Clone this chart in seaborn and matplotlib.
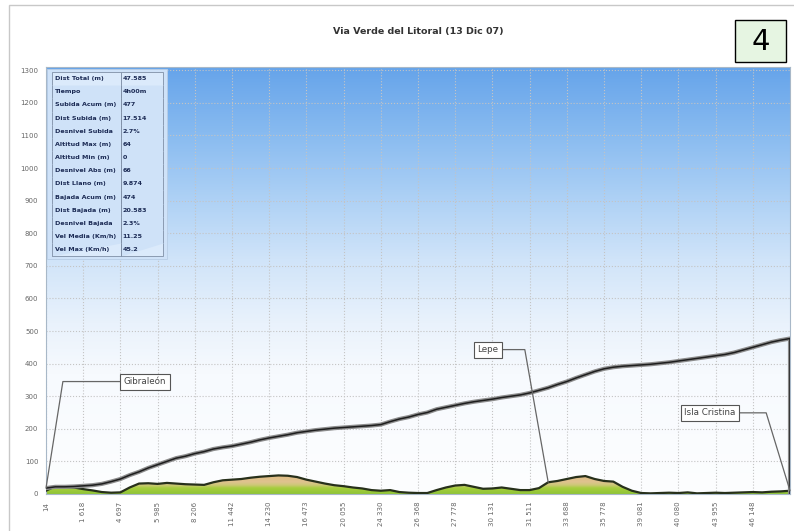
import matplotlib
matplotlib.use("Agg")
import matplotlib.pyplot as plt
import matplotlib.patches as mpatches
from matplotlib.colors import LinearSegmentedColormap
import numpy as np
import pandas as pd
import seaborn as sns

# cumulative ascent (m), one value per sample
cum_ascent = [18, 22, 22, 23, 25, 27, 31, 38, 46, 58, 68, 80, 90, 100, 110, 116,
              124, 130, 138, 143, 147, 153, 159, 166, 172, 177, 182, 188, 192, 196,
              199, 202, 204, 206, 208, 210, 213, 222, 230, 236, 244, 250, 260, 266,
              272, 278, 283, 287, 291, 296, 300, 304, 310, 318, 326, 336, 345, 356,
              366, 376, 384, 389, 392, 394, 396, 398, 401, 404, 408, 412, 416, 420,
              424, 428, 434, 442, 450, 458, 466, 472, 477]
# altitude profile (m)
altitude = [10, 24, 22, 20, 15, 11, 6, 4, 5, 20, 32, 33, 31, 34, 32, 30, 29, 28,
            36, 42, 44, 46, 50, 53, 55, 57, 56, 52, 44, 38, 32, 27, 24, 20, 17, 12,
            10, 12, 6, 4, 3, 3, 12, 20, 26, 28, 22, 16, 17, 20, 16, 12, 12, 18, 36,
            40, 46, 52, 55, 46, 40, 38, 22, 10, 3, 2, 3, 4, 3, 5, 2, 3, 4, 3, 4, 5,
            6, 5, 7, 8, 10]
tick_labels = ["14", "1 618", "4 697", "5 985", "8 206", "11 442", "14 230",
               "16 473", "20 055", "24 330", "26 368", "27 778", "30 131",
               "31 511", "33 688", "35 778", "39 081", "40 080", "43 955", "46 148"]
stats_names = ["Dist Total (m)", "Tiempo", "Subida Acum (m)", "Dist Subida (m)",
               "Desnivel Subida", "Altitud Max (m)", "Altitud Min (m)",
               "Desnivel Abs (m)", "Dist Llano (m)", "Bajada Acum (m)",
               "Dist Bajada (m)", "Desnivel Bajada", "Vel Media (Km/h)",
               "Vel Max (Km/h)"]
stats_values = ["47.585", "4h00m", "477", "17.514", "2.7%", "64", "0", "66",
                "9.874", "474", "20.583", "2.3%", "11.25", "45.2"]
places = ["Gibraleón", "Lepe", "Isla Cristina"]
place_idx = [0, 54, 80]

df = pd.DataFrame({"sample": np.arange(len(altitude)),
                   "cum": cum_ascent, "alt": altitude})

sns.set_style("white")
fig = plt.figure(figsize=(7.94, 5.31), dpi=100)
ax = fig.add_axes([46 / 794, 1 - 494 / 531, 744 / 794, 427 / 531])

# sky background
sky = LinearSegmentedColormap.from_list(
    "sky", [(0, "#fdfeff"), (0.28, "#f7fafe"), (0.4, "#e9f2fc"), (0.55, "#d0e4f9"),
            (0.7, "#acd0f5"), (0.85, "#87baf0"), (1, "#66a4ea")])
grad = np.linspace(0, 1, 256).reshape(-1, 1)
ax.imshow(grad, cmap=sky, extent=[0, 1, 0, 1], transform=ax.transAxes,
          origin="lower", aspect="auto", zorder=0)

# altitude fill with green->tan gradient
coll = ax.fill_between(df["sample"], 0, df["alt"], color="none", zorder=2)
ground = LinearSegmentedColormap.from_list(
    "ground", [(0, "#8fc436"), (0.3, "#a6cd3e"), (0.45, "#cdc877"),
               (0.6, "#dec38f"), (1, "#e0bb82")])
img = ax.imshow(grad, cmap=ground, origin="lower", aspect="auto",
                extent=[0, len(altitude) - 1, 0, 60], zorder=2)
img.set_clip_path(coll.get_paths()[0], ax.transData)

sns.lineplot(data=df, x="sample", y="alt", color="#27301b", lw=1.6, ax=ax, zorder=3)
sns.lineplot(data=df, x="sample", y="cum", color="#8c8c8c", lw=3.0, ax=ax, zorder=3)
sns.lineplot(data=df, x="sample", y="cum", color="#1e1e1e", lw=1.1, ax=ax, zorder=4)
ax.vlines(df["sample"].iloc[-1], 0, df["cum"].iloc[-1], color="#8c8c8c", lw=3.0, zorder=3)
ax.vlines(df["sample"].iloc[-1], 0, df["cum"].iloc[-1], color="#1e1e1e", lw=1.1, zorder=4)

ax.set_xlim(0, len(altitude) - 1)
ax.set_ylim(0, 1310)
ax.set_xticks(np.arange(len(tick_labels)) * 4)
ax.set_xticklabels(tick_labels, rotation=90)
ax.set_yticks(range(0, 1301, 100))
ax.tick_params(axis="both", labelsize=5, colors="#666666", length=2, width=0.5)
ax.set_xlabel("")
ax.set_ylabel("")
ax.grid(True, linestyle=":", color="#c4c4c4", lw=0.8, zorder=1)
for gl in ax.get_xgridlines() + ax.get_ygridlines():
    gl.set_zorder(1)
for s in ax.spines.values():
    s.set_color("#a8b8c8")
    s.set_linewidth(0.8)

# place labels
text_pos = [(2.66 * 4, 345), (11.87 * 4, 443), (17.85 * 4, 249)]
angles = [81, 100, 107]
relpos = [(0, 0.5), (1, 0.5), (1, 0.5)]
for name, i, xyt, ang, rp in zip(places, place_idx, text_pos, angles, relpos):
    yv = df["cum"].iloc[i] if i == 0 else df["alt"].iloc[i]
    ax.annotate(name, xy=(df["sample"].iloc[i], yv), xytext=xyt,
                ha="center", va="center", fontsize=6.3, color="#444444", zorder=6,
                bbox=dict(boxstyle="square,pad=0.4", fc="white", ec="#555555", lw=0.8),
                arrowprops=dict(arrowstyle="-", color="#666666", lw=0.9,
                                shrinkA=0, shrinkB=0, relpos=rp,
                                connectionstyle=f"angle,angleA=0,angleB={ang},rad=0"))

# stats box
ax.add_patch(mpatches.Rectangle((0.001, 0.55), 0.162, 0.445, transform=ax.transAxes,
                                fc="#cfe2f8", ec="#b8cde6", lw=0.6, zorder=5))
tab = ax.table(cellText=list(zip(stats_names, stats_values)),
               bbox=[0.008, 0.557, 0.149, 0.431], cellLoc="left",
               colWidths=[0.62, 0.38], zorder=6)
tab.auto_set_font_size(False)
nrows = len(stats_names)
for (r, c), cell in tab.get_celld().items():
    cell.set_facecolor("#dbeafb")
    cell.set_edgecolor("#7f8fa6")
    cell.set_linewidth(0.6)
    cell.get_text().set_fontsize(4.6)
    cell.get_text().set_fontweight("bold")
    cell.get_text().set_color("#1c2b55")
    cell.PAD = 0.04
    edges = "LR"
    if r == 0:
        edges += "T"
    if r == nrows - 1:
        edges += "B"
    cell.visible_edges = edges

fig.text(0.527, 0.94, "Via Verde del Litoral (13 Dic 07)", ha="center", va="center",
         fontsize=6.8, fontweight="bold", color="#333333")
fig.patches.append(mpatches.Rectangle((735 / 794, 1 - 62 / 531), 51 / 794, 42 / 531,
                                      transform=fig.transFigure, fc="#e6f5e2",
                                      ec="black", lw=1.0))
fig.text(760.5 / 794, 1 - 42 / 531, "4", ha="center", va="center", fontsize=21,
         color="black")
fig.patches.append(mpatches.Rectangle((9 / 794, -0.01), 1.0, 1 - 5 / 531 + 0.01,
                                      transform=fig.transFigure, fill=False,
                                      ec="#c8c8c8", lw=1.0))

fig.savefig("out.png", dpi=100)
